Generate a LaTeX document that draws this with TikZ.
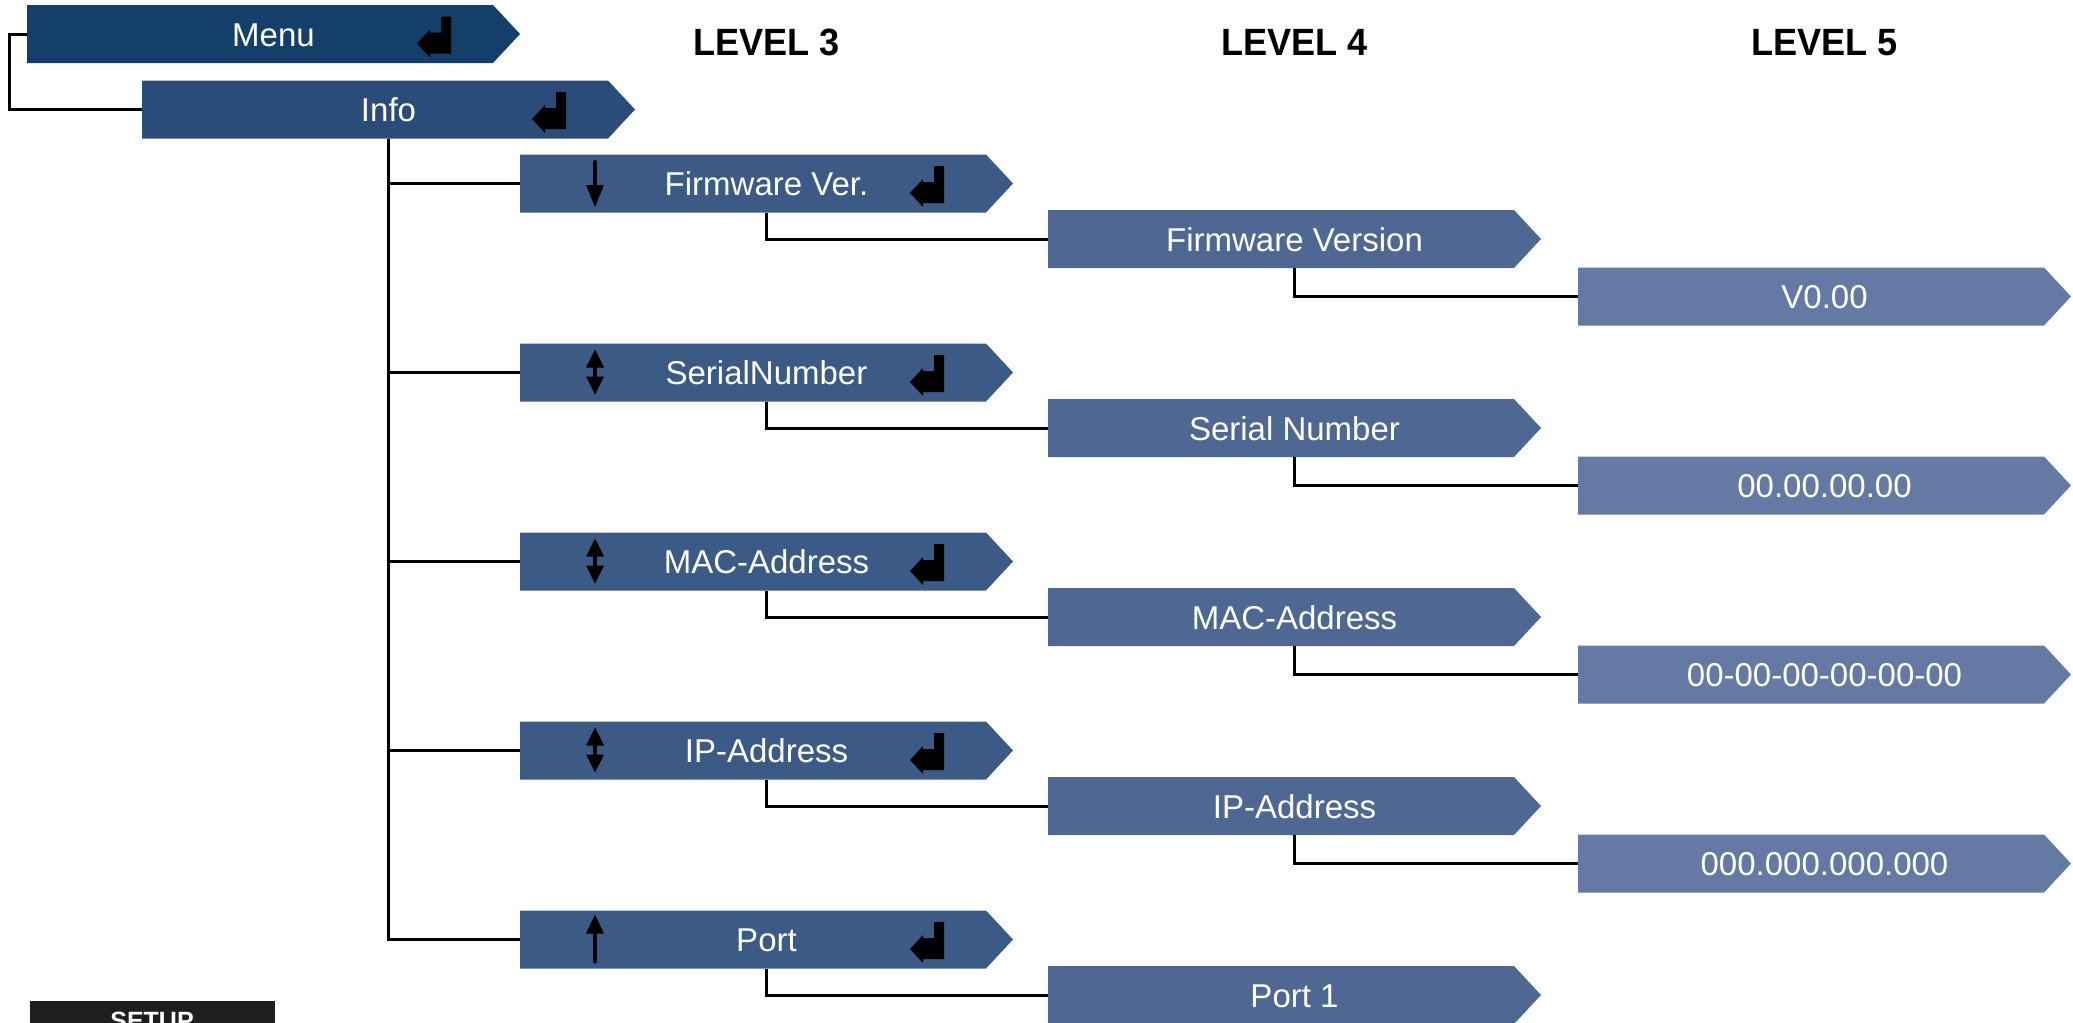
\documentclass[tikz,border=0pt]{standalone}
\usepackage{fontspec}
\setmainfont{Liberation Sans}
\newfontfamily\hdrfont[FakeStretch=0.95]{Liberation Sans}
\definecolor{cMenu}{RGB}{20,63,107}
\definecolor{cInfo}{RGB}{43,75,120}
\definecolor{cLthree}{RGB}{59,90,134}
\definecolor{cLfour}{RGB}{78,104,147}
\definecolor{cLfive}{RGB}{100,121,163}
\definecolor{setupgray}{RGB}{30,30,30}
\begin{document}
\begin{tikzpicture}[x=1pt,y=-1pt,line width=3pt,
  shp/.style={minimum width=493pt,minimum height=58pt,inner sep=0pt,outer sep=0pt,
    anchor=west,text=white,font=\fontsize{33pt}{33pt}\selectfont,text height=24pt,text depth=0pt,
    path picture={\fill[#1] (path picture bounding box.south west)
      -- ([xshift=-27pt]path picture bounding box.south east)
      -- (path picture bounding box.east)
      -- ([xshift=-27pt]path picture bounding box.north east)
      -- (path picture bounding box.north west) -- cycle;}},
  hdr/.style={anchor=base,font=\hdrfont\bfseries\fontsize{38pt}{38pt}\selectfont,inner sep=0pt},
  reticon/.pic={\fill[black] (390,9.5) -- (403,-4.5) -- (403,-1.5) -- (414,-1.5) -- (414,-17.5)
      -- (424,-17.5) -- (424,19.5) -- (403,19.5) -- (403,23.5) -- cycle;},
  downarr/.pic={\draw[black,line width=4pt,line cap=round] (75,-21.5) -- (75,5);
      \fill[black] (66,1.5) -- (84,1.5) -- (75,23.5) -- cycle;},
  updownarr/.pic={\fill[black] (75,-23) -- (84,-5) -- (66,-5) -- cycle;
      \fill[black] (75,22) -- (84,4) -- (66,4) -- cycle;
      \draw[black,line width=4pt] (75,-6) -- (75,5);},
  uparr/.pic={\fill[black] (75,-25) -- (84,-6) -- (66,-6) -- cycle;
      \draw[black,line width=4pt,line cap=round] (75,-8) -- (75,22);}
]
\useasboundingbox (0,0) rectangle (2073,1023);
\clip (0,0) rectangle (2073,1023);

% headers
\node[hdr] (h3) at (766.5,55) {LEVEL 3};
\node[hdr] (h4) at (1294.5,55) {LEVEL 4};
\node[hdr] (h5) at (1824.5,55) {LEVEL 5};

% level 1-2
\node[shp=cMenu] (menu) at (27,34) {Menu};
\node[shp=cInfo] (info) at (142,109.5) {Info};

% level 3
\node[shp=cLthree] (l3a) at (520,183.5) {Firmware Ver.};
\node[shp=cLthree] (l3b) at (520,372.5) {SerialNumber};
\node[shp=cLthree] (l3c) at (520,561.5) {MAC-Address};
\node[shp=cLthree] (l3d) at (520,750.5) {IP-Address};
\node[shp=cLthree] (l3e) at (520,939.5) {Port};

% level 4
\node[shp=cLfour] (l4a) at (1048,239) {Firmware Version};
\node[shp=cLfour] (l4b) at (1048,428) {Serial Number};
\node[shp=cLfour] (l4c) at (1048,617) {MAC-Address};
\node[shp=cLfour] (l4d) at (1048,806) {IP-Address};
\node[shp=cLfour] (l4e) at (1048,995) {Port 1};

% level 5
\node[shp=cLfive] (l5a) at (1578,296.5) {V0.00};
\node[shp=cLfive] (l5b) at (1578,485.5) {00.00.00.00};
\node[shp=cLfive] (l5c) at (1578,674.5) {00-00-00-00-00-00};
\node[shp=cLfive] (l5d) at (1578,863.5) {000.000.000.000};

% setup box
\node[fill=setupgray,anchor=north west,minimum width=245pt,minimum height=40pt,inner sep=0pt,
  text=white,font=\bfseries\fontsize{25pt}{25pt}\selectfont,text height=18pt,text depth=0pt]
  (setup) at (28,999) {SETUP};

% connectors
\draw (menu.west) -- ++(-18,0) |- (info.west);
\foreach \n in {a,b,c,d,e}{
  \draw (info.south) |- (l3\n.west);
  \draw (l3\n.south) |- (l4\n.west);
}
\foreach \n in {a,b,c,d}{
  \draw (l4\n.south) |- (l5\n.west);
}

% icons
\pic at (menu.west) {reticon};
\pic at (info.west) {reticon};
\foreach \n in {a,b,c,d,e}{ \pic at (l3\n.west) {reticon}; }
\pic at (l3a.west) {downarr};
\pic at (l3b.west) {updownarr};
\pic at (l3c.west) {updownarr};
\pic at (l3d.west) {updownarr};
\pic at (l3e.west) {uparr};
\end{tikzpicture}
\end{document}
